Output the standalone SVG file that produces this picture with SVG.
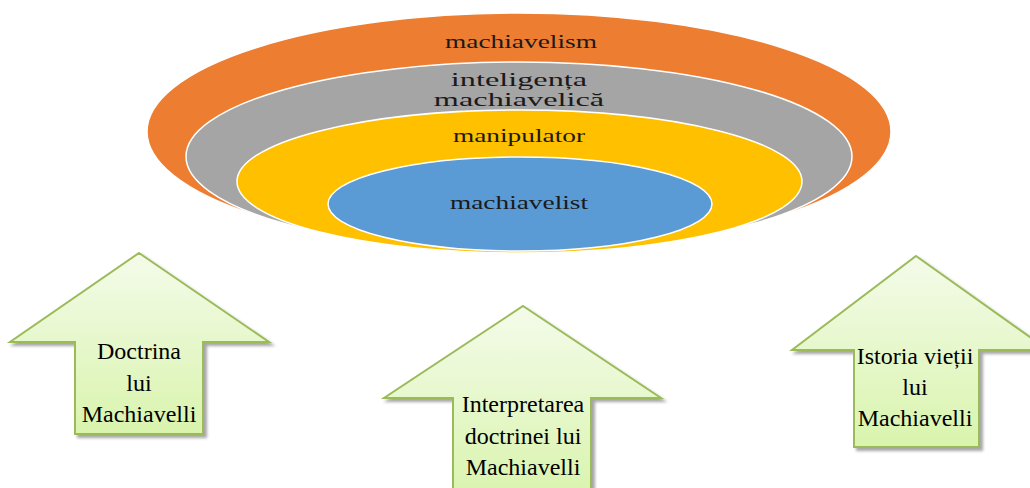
<svg xmlns="http://www.w3.org/2000/svg" width="1030" height="488" viewBox="0 0 1030 488">
<style>
.ring{stroke:#ffffff;stroke-width:1.5}
.lbl{font-family:"Liberation Serif","Times New Roman",serif;fill:#1a1a1a;text-anchor:middle;font-size:18px}
.big{font-size:19px}
.arrow{fill:url(#ag);stroke:#9bbb59;stroke-width:2;filter:url(#sh)}
.atxt{font-family:"Liberation Serif","Times New Roman",serif;font-size:24px;fill:#000;text-anchor:middle}
</style>
<defs>
<linearGradient id="ag" x1="0" y1="0" x2="0" y2="1">
<stop offset="0" stop-color="#f4fbea"/>
<stop offset="1" stop-color="#d9f4ad"/>
</linearGradient>
<filter id="sh" x="-10%" y="-10%" width="130%" height="130%">
<feDropShadow dx="3" dy="3" stdDeviation="1.5" flood-color="#000" flood-opacity="0.35"/>
</filter>
</defs>
<g id="rings">
<g id="machiavelism">
<ellipse class="ring" cx="519" cy="131.5" rx="372" ry="118.5" fill="#ed7d31"/>
<text class="lbl" transform="translate(521,48) scale(1.52,1)">machiavelism</text>
</g>
<g id="inteligenta">
<ellipse class="ring" cx="519" cy="156.5" rx="333" ry="94.5" fill="#a5a5a5"/>
<text class="lbl big" transform="translate(519,86) scale(1.7,1)">inteligența</text>
<text class="lbl big" transform="translate(519,106) scale(1.7,1)">machiavelică</text>
</g>
<g id="manipulator">
<ellipse class="ring" cx="519.5" cy="181.5" rx="282.5" ry="71.5" fill="#ffc000"/>
<text class="lbl" transform="translate(519,142) scale(1.52,1)">manipulator</text>
</g>
<g id="machiavelist">
<ellipse class="ring" cx="520" cy="204" rx="192" ry="47" fill="#5b9bd5"/>
<text class="lbl" transform="translate(519,209) scale(1.52,1)">machiavelist</text>
</g>
</g>
<g id="connectors"></g>
<g id="arrow-doctrina">
<polygon class="arrow" points="139,253 269,342 203,342 203,434 75,434 75,342 10,342"/>
<text class="atxt" x="139" y="359">Doctrina</text>
<text class="atxt" x="139" y="391">lui</text>
<text class="atxt" x="139" y="422">Machiavelli</text>
</g>
<g id="arrow-interpretarea">
<polygon class="arrow" points="523,306 661,398 591,398 591,500 453,500 453,398 384,398"/>
<text class="atxt" x="523" y="412">Interpretarea</text>
<text class="atxt" x="523" y="444">doctrinei lui</text>
<text class="atxt" x="523" y="475">Machiavelli</text>
</g>
<g id="arrow-istoria">
<polygon class="arrow" points="916,256 1048,350 979,350 979,447 854,447 854,350 792,350"/>
<text class="atxt" x="915" y="364">Istoria vieții</text>
<text class="atxt" x="915" y="395">lui</text>
<text class="atxt" x="915" y="426">Machiavelli</text>
</g>
</svg>
